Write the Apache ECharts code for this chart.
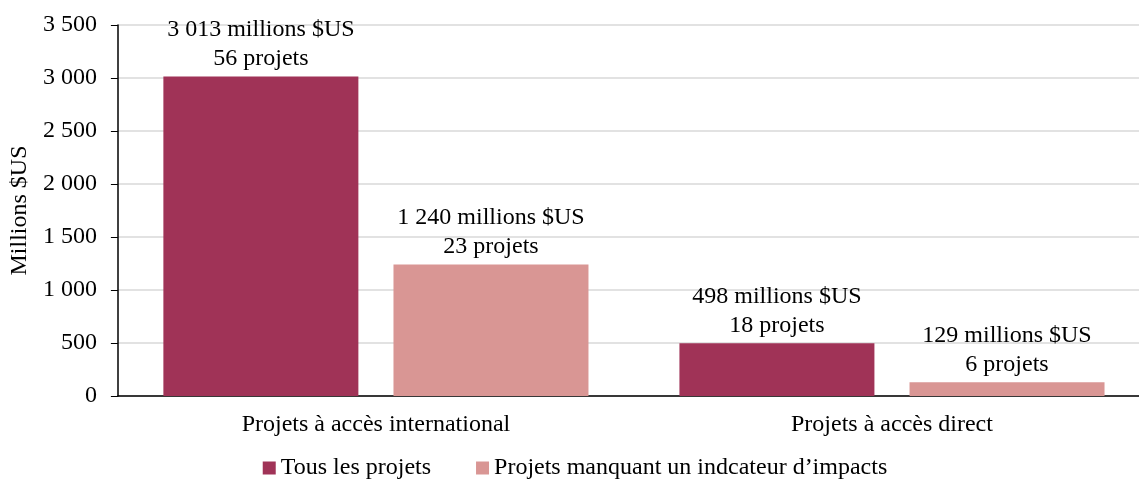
<!DOCTYPE html>
<html>
<head>
<meta charset="utf-8">
<script src="https://cdn.jsdelivr.net/npm/echarts@6/dist/echarts.min.js"></script>
<style>
  html, body { margin: 0; padding: 0; background: #fff; overflow: hidden; }
  #main { width: 1150px; height: 479px; }
</style>
</head>
<body>
<div id="main"></div>
<script>
const categories = ['Projets à accès international', 'Projets à accès direct'];
const seriesNames = ['Tous les projets', 'Projets manquant un indcateur d’impacts'];
const allValues = [3013, 498];
const allProjects = [56, 18];
const missingValues = [1240, 129];
const missingProjects = [23, 6];

function fmt(n) {
  return String(n).replace(/\B(?=(\d{3})+(?!\d))/g, ' ');
}

const chart = echarts.init(document.getElementById('main'));
const font = 'Liberation Serif';
const fs = 24;

function makeLabel(projects) {
  return {
    show: true,
    position: 'top',
    distance: 3,
    fontFamily: font,
    fontSize: fs,
    lineHeight: 29,
    color: '#000',
    formatter: function (p) {
      return fmt(p.value) + ' millions $US\n' + projects[p.dataIndex] + ' projets';
    }
  };
}

const option = {
  animation: false,
  textStyle: { fontFamily: font },
  color: ['#A03357', '#D99694'],
  legend: {
    bottom: -6,
    left: 'center',
    itemWidth: 13,
    itemHeight: 13,
    itemGap: 45,
    icon: 'rect',
    textStyle: { fontFamily: font, fontSize: fs, color: '#000' },
    data: seriesNames
  },
  grid: { left: 116, right: 0, top: 25, bottom: 83 },
  xAxis: {
    type: 'category',
    data: categories,
    axisLine: { lineStyle: { color: '#000', width: 1.5 } },
    axisTick: { show: false },
    axisLabel: { fontFamily: font, fontSize: fs, color: '#000', margin: 17 }
  },
  yAxis: {
    type: 'value',
    min: 0,
    max: 3500,
    interval: 500,
    name: 'Millions $US',
    nameLocation: 'middle',
    nameGap: 81,
    nameTextStyle: { fontFamily: font, fontSize: fs, color: '#000' },
    axisLine: { show: true, lineStyle: { color: '#000', width: 1.5 } },
    axisTick: { show: true, length: 7, lineStyle: { color: '#000' } },
    axisLabel: {
      fontFamily: font, fontSize: fs, color: '#000', margin: 21,
      formatter: function (v) { return fmt(v); }
    },
    splitLine: { lineStyle: { color: '#d9d9d9', width: 1.5 } }
  },
  series: [
    {
      name: seriesNames[0],
      type: 'bar',
      barWidth: 195,
      barGap: '18%',
      data: allValues,
      label: makeLabel(allProjects)
    },
    {
      name: seriesNames[1],
      type: 'bar',
      barWidth: 195,
      data: missingValues,
      label: makeLabel(missingProjects)
    }
  ]
};

chart.setOption(option);
</script>
</body>
</html>
